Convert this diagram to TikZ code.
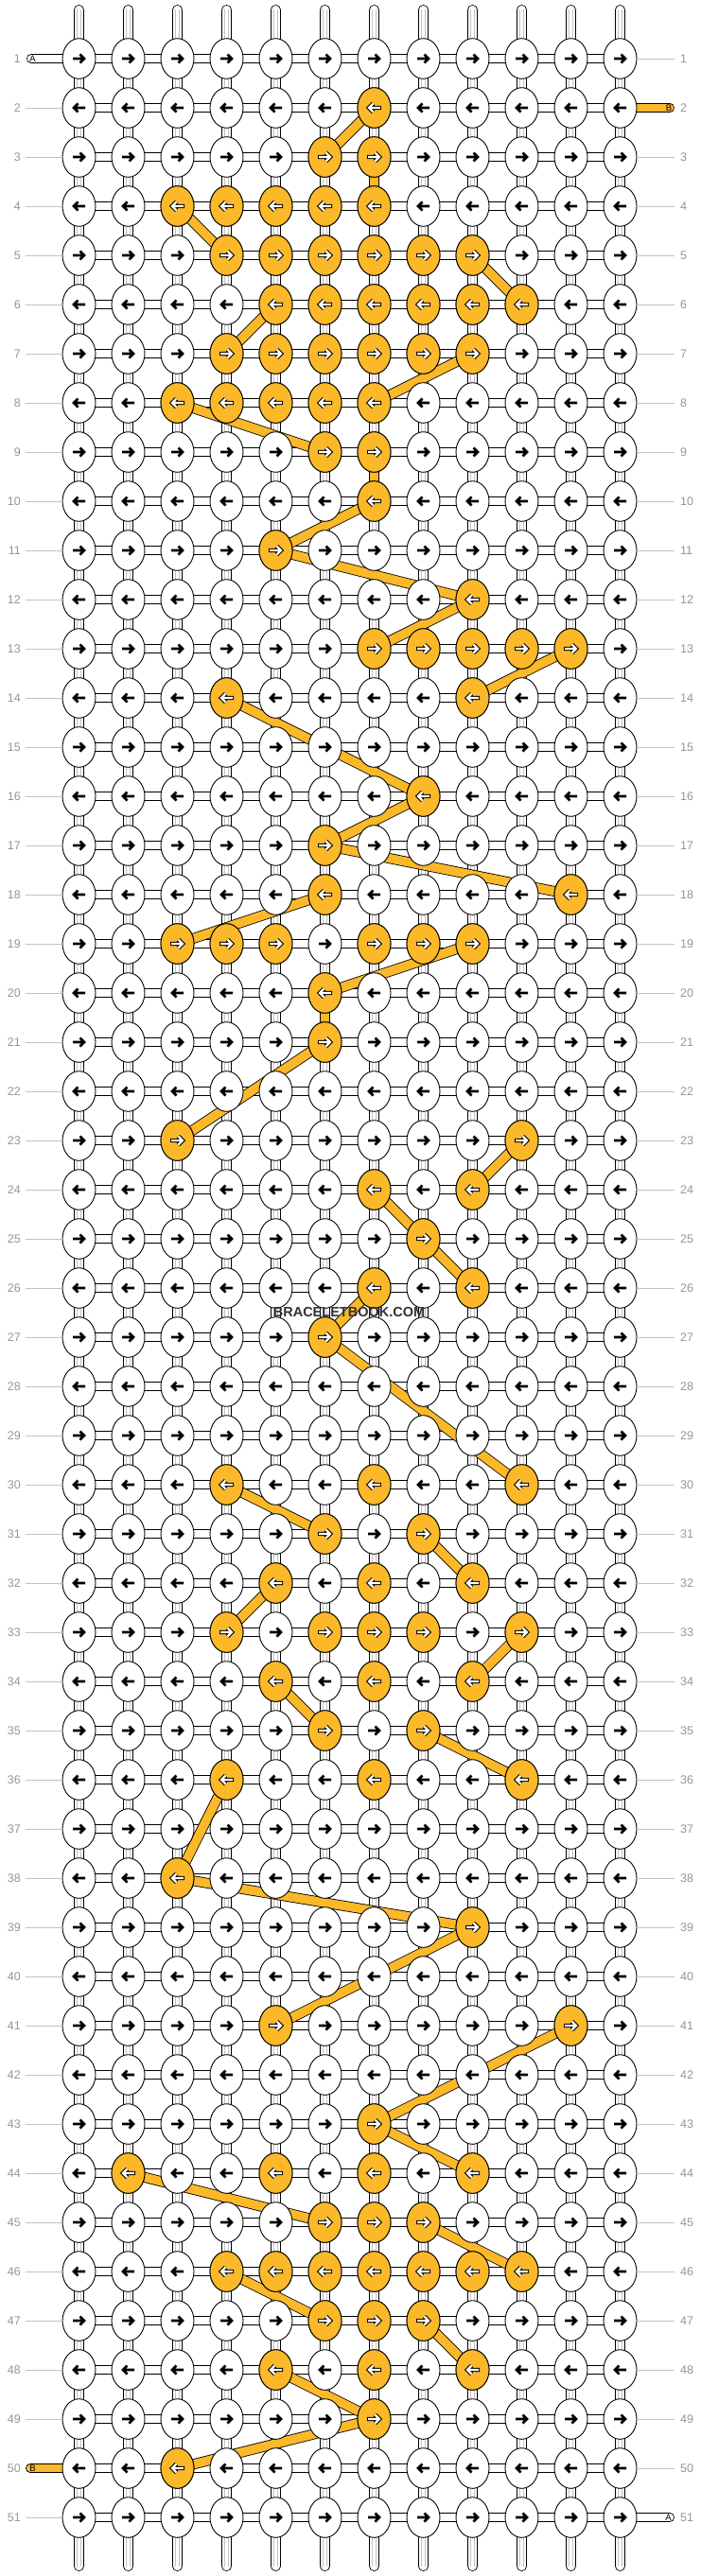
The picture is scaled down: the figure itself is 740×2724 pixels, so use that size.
\documentclass[tikz,border=0pt]{standalone}
\usepackage{fontspec}
\setmainfont{Liberation Sans}
\usetikzlibrary{shapes.geometric,backgrounds}
\definecolor{bbyellow}{RGB}{251,184,41}
\definecolor{rowgray}{RGB}{150,150,150}
\definecolor{rulegray}{RGB}{195,195,195}
\definecolor{wmgray}{RGB}{50,50,50}
\tikzset{
	arw/.pic={\draw[line width=2.6pt] (-6.5,0) -- (5.5,0) (1,-4.5) -- (5.5,0) -- (1,4.5);},
	arwo/.pic={\draw[line width=4.4pt] (-7.5,0) -- (5.5,0) (1,-4.5) -- (5.5,0) -- (1,4.5);
		\draw[white,line width=2.2pt] (-6.5,0) -- (5.5,0) (1,-4.5) -- (5.5,0) -- (1,4.5);}
}

\begin{document}
\begin{tikzpicture}[x=1pt,y=-1pt,
	knot/.style={ellipse,draw,line width=0.9pt,fill=white,minimum width=35pt,minimum height=42.6pt,inner sep=0pt},
	bknot/.style={knot,fill=bbyellow},
	vstring/.style={draw=black,double=white,line width=0.8pt,double distance=9.4pt,line cap=round},
	vthread/.style={draw=rulegray,double=white,line width=0.7pt,double distance=3.6pt},
	hstring/.style={draw=black,double=white,line width=0.8pt,double distance=8.4pt},
	tail/.style={hstring,line cap=round},
	btail/.style={tail,double=bbyellow},
	bpath/.style={draw=black,double=bbyellow,line width=0.8pt,double distance=9.4pt},
	rowlabel/.style={text=rowgray,inner sep=0pt,font=\fontsize{12.5}{12.5}\selectfont},
	taillabel/.style={inner sep=0pt,font=\fontsize{9.5}{9.5}\selectfont},
	rowrule/.style={draw=rulegray,line width=0.9pt}]
	\useasboundingbox (0,0) rectangle (740,2724);

	\foreach \r in {1,...,51}{
		\pgfmathsetmacro\s{isodd(\r) ? 1 : -1}
		\foreach \c in {1,...,12}{
			\node[knot] (k\r-\c) at ({83.5+52*(\c-1)},{62+52*(\r-1)}) {};
			\pic[xscale=\s] at (k\r-\c) {arw};
		}
		\node[rowlabel,anchor=east] (ll\r) at (22,{62+52*(\r-1)}) {\r};
		\node[rowlabel,anchor=west] (rl\r) at (719,{62+52*(\r-1)}) {\r};
	}

	\foreach \r/\cs in {2/{7},3/{6,7},4/{3,...,7},5/{4,...,9},6/{5,...,10},7/{4,...,9},8/{3,...,7},
		9/{6,7},10/{7},11/{5},12/{9},13/{7,...,11},14/{4,9},16/{8},17/{6},18/{6,11},
		19/{3,4,5,7,8,9},20/{6},21/{6},23/{3,10},24/{7,9},25/{8},26/{7,9},27/{6},
		30/{4,7,10},31/{6,8},32/{5,7,9},33/{4,6,7,8,10},34/{5,7,9},35/{6,8},36/{4,7,10},
		38/{3},39/{9},41/{5,11},43/{7},44/{2,5,7,9},45/{6,7,8},46/{4,...,10},47/{6,7,8},
		48/{5,7,9},49/{7},50/{3}}{
		\pgfmathsetmacro\s{isodd(\r) ? 1 : -1}
		\foreach \c in \cs{
			\node[bknot] (o\r-\c) at (k\r-\c) {};
			\pic[xscale=\s] at (o\r-\c) {arwo};
		}
	}

	\coordinate (ta1) at (33,62);
	\coordinate (tb2) at (708,114);
	\coordinate (tb50) at (32,2610);
	\coordinate (ta51) at (708,2662);

	\foreach \r in {2,...,49,51} \draw[rowrule] ([xshift=5pt]ll\r.east) -- (k\r-1.west);
	\foreach \r in {1,3,4,...,50} \draw[rowrule] (k\r-12.east) -- ([xshift=-6pt]rl\r.west);

	\begin{scope}[on background layer]
		\fill[white] (0,0) rectangle (740,2724);
		\foreach \c in {1,...,12}{
			\coordinate (top\c) at ({83.5+52*(\c-1)},10.5);
			\coordinate (bot\c) at ({83.5+52*(\c-1)},2713.5);
			\draw[vstring] (top\c) -- (bot\c);
			\draw[vthread] (top\c) -- (bot\c);
		}
		\foreach \r in {1,...,51} \draw[hstring] (k\r-1.center) -- (k\r-12.center);
		\draw[tail] (ta1) -- (k1-1.center);
		\draw[btail] (k2-12.center) -- (tb2);
		\draw[btail] (tb50) -- (k50-1.center);
		\draw[tail] (k51-12.center) -- (ta51);
		\foreach \ra/\ca/\rb/\cb in {2/7/3/6,3/7/4/7,4/3/5/4,5/9/6/10,6/5/7/4,7/9/8/7,8/3/9/6,
			9/7/10/7,10/7/11/5,11/5/12/9,12/9/13/7,13/11/14/9,14/4/16/8,16/8/17/6,17/6/18/11,
			18/6/19/3,19/9/20/6,20/6/21/6,21/6/23/3,23/10/24/9,24/7/25/8,25/8/26/9,26/7/27/6,
			27/6/30/10,30/4/31/6,31/8/32/9,32/5/33/4,33/10/34/9,34/5/35/6,35/8/36/10,36/4/38/3,
			38/3/39/9,39/9/41/5,41/11/43/7,43/7/44/9,44/2/45/6,45/8/46/10,46/4/47/6,47/8/48/9,
			48/5/49/7,49/7/50/3}
			\draw[bpath] (k\ra-\ca.center) -- (k\rb-\cb.center);
	\end{scope}

	\node[taillabel] (la1) at (34.5,62) {A};
	\node[taillabel] (lb2) at (707,114) {B};
	\node[taillabel] (lb50) at (34.5,2610) {B};
	\node[taillabel] (la51) at (706.5,2662) {A};

	\node[text=wmgray,inner sep=0pt,font=\bfseries\fontsize{14.5}{14.5}\selectfont] (wm) at (369,1387) {BRACELETBOOK.COM};
\end{tikzpicture}
\end{document}
